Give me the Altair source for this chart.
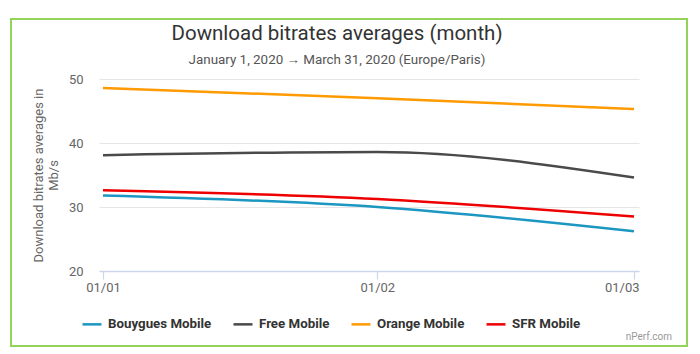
import altair as alt
import pandas as pd

dates = ["2020-01-01", "2020-02-01", "2020-03-01"]
operators = ["Bouygues Mobile", "Free Mobile", "Orange Mobile", "SFR Mobile"]
bouygues = [31.8, 30.0, 26.2]
free = [38.1, 38.6, 34.6]
orange = [48.6, 47.0, 45.3]
sfr = [32.6, 31.25, 28.5]
colors = ["#1b97c1", "#4a4a4a", "#ff9a00", "#ee0000"]
y_ticks = [20, 30, 40, 50]

series = {"Bouygues Mobile": bouygues, "Free Mobile": free,
          "Orange Mobile": orange, "SFR Mobile": sfr}
rows = []
for op in operators:
    for d, v in zip(dates, series[op]):
        rows.append({"date": d, "operator": op, "value": v})
df = pd.DataFrame(rows)

FONT = "Roboto"

x_axis = alt.Axis(
    values=[alt.DateTime(year=2020, month=1, date=1, utc=True),
            alt.DateTime(year=2020, month=2, date=1, utc=True),
            alt.DateTime(year=2020, month=3, date=1, utc=True)],
    format="%d/%m", title=None, grid=False,
    domainColor="#ccd6eb", domainWidth=1.5, tickColor="#ccd6eb", tickSize=8, tickWidth=1.2,
    labelFont=FONT, labelFontSize=13, labelColor="#666666", labelPadding=2,
    labelFlush=False,
    labelAlign={"condition": {"test": "datum.index == 1", "value": "right"}, "value": "center"},
    labelOffset={"condition": {"test": "datum.index == 1", "value": 5}, "value": 0},
)

y_axis = alt.Axis(
    values=y_ticks, title=["Download bitrates averages in", "Mb/s"],
    grid=True, gridColor="#e6e6e6", gridWidth=1.2, domain=False, ticks=False, tickSize=0,
    labelFont=FONT, labelFontSize=13, labelColor="#666666", labelPadding=16,
    titleFont=FONT, titleFontSize=13, titleFontWeight="normal", titleColor="#666666",
    titlePadding=8,
)

lines = alt.Chart(df).mark_line(interpolate="monotone", strokeWidth=2.5).encode(
    x=alt.X("date:T", axis=x_axis,
            scale=alt.Scale(type="utc", domain=[
                alt.DateTime(year=2019, month=12, date=31, hours=13, minutes=10, utc=True),
                alt.DateTime(year=2020, month=3, date=1, hours=13, minutes=33, utc=True)])),
    y=alt.Y("value:Q", axis=y_axis, scale=alt.Scale(domain=[20, 50], nice=False, zero=False)),
    color=alt.Color("operator:N", scale=alt.Scale(domain=operators, range=colors),
                    legend=alt.Legend(
                        title=None, orient="none", legendX=-18, legendY=234,
                        direction="horizontal", symbolType="stroke", symbolSize=361,
                        symbolStrokeWidth=2.5, labelFont=FONT, labelFontSize=13.3,
                        labelFontWeight="bold", labelColor="#333333", labelOffset=5,
                        columnPadding=16)),
)

border = alt.Chart(alt.Data(values=[{}])).mark_rect(
    filled=False, stroke="#93d35a", strokeWidth=2, clip=False
).encode(x=alt.value(-88), x2=alt.value(588), y=alt.value(-60), y2=alt.value(267))

credit = alt.Chart(alt.Data(values=[{}])).mark_text(
    text="nPerf.com", font=FONT, fontSize=10, color="#999999", align="right", baseline="middle"
).encode(x=alt.value(573), y=alt.value(258))

chart = alt.layer(border, lines, credit).properties(
    width=540, height=192,
    title=alt.TitleParams(
        text="Download bitrates averages (month)",
        subtitle="January 1, 2020 \u2192 March 31, 2020 (Europe/Paris)",
        font=FONT, fontSize=20.5, fontWeight="normal", color="#333333",
        subtitleFont=FONT, subtitleFontSize=13.4, subtitleColor="#555555",
        subtitlePadding=8, anchor="middle", dx=-32, offset=-48),
    autosize=alt.AutoSizeParams(type="none"),
    padding={"left": 99, "top": 79, "right": 61, "bottom": 83},
    background="white",
).configure_view(stroke=None)

chart.save("out.html", embed_options={"renderer": "svg", "actions": False})
